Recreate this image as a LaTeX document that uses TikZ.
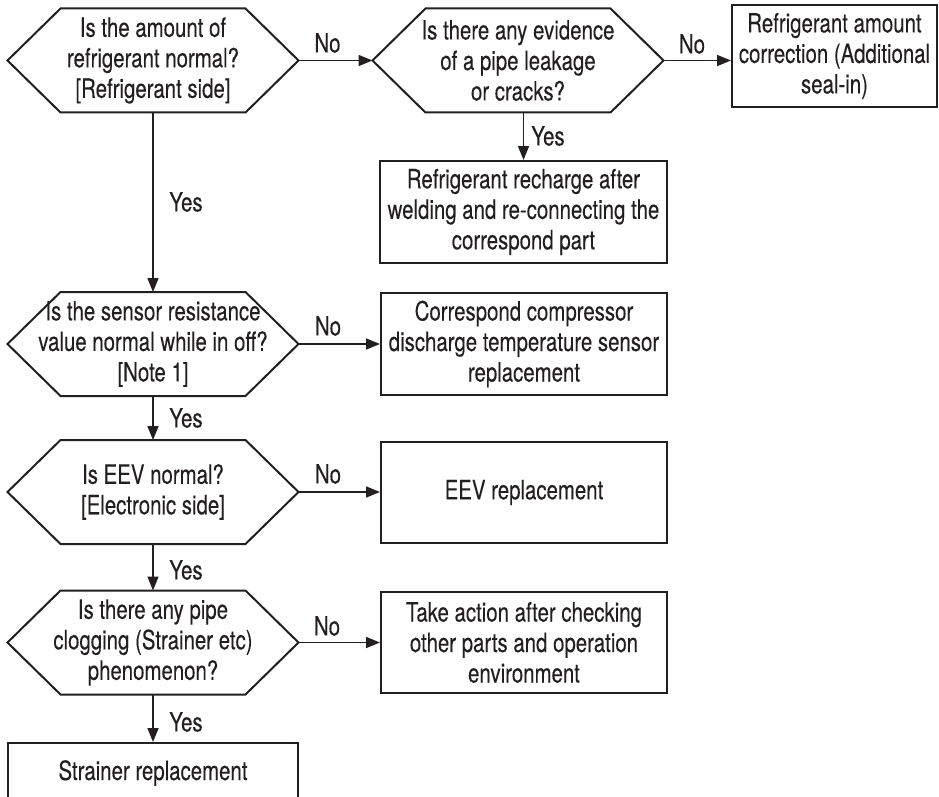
\documentclass[tikz,border=0pt]{standalone}
\usepackage{fontspec}
\setmainfont[FakeStretch=0.77,FakeBold=0.15]{TeX Gyre Heros}
\usetikzlibrary{arrows.meta,calc}
\definecolor{ink}{HTML}{231F20}
\tikzset{
  txt/.style={font=\fontsize{26.5}{30.5}\selectfont, text=ink, align=center, inner sep=0pt},
  outline/.style={draw=ink, line width=2pt, line join=miter},
  actbox/.style={txt, outline},
  conn/.style={draw=ink, line width=1.6pt, -{Triangle[length=14pt,width=11pt]}},
  lbl/.style={txt}
}
\newcommand\hexq[4]{%
  \coordinate (#1-t) at (#2,#3-52);
  \coordinate (#1-b) at (#2,#3+52);
  \coordinate (#1-l) at (#2-145.5,#3);
  \coordinate (#1-r) at (#2+145.5,#3);
  \draw[outline] (#2-92.5,#3-52) -- (#2+92.5,#3-52) -- (#1-r) -- (#2+92.5,#3+52)
     -- (#2-92.5,#3+52) -- (#1-l) -- cycle;
  \node[txt] (#1) at (#2,#3) {#4};
}
\begin{document}
\begin{tikzpicture}[x=1pt,y=-1pt]
\useasboundingbox (0,0) rectangle (939,797);
\clip (0,0) rectangle (939,797);

\hexq{q1}{153}{60.5}{Is the amount of\\refrigerant normal?\\{[Refrigerant side]}}
\hexq{q2}{518}{60.5}{Is there any evidence\\of a pipe leakage\\or cracks?}
\hexq{q3}{153}{344}{Is the sensor resistance\\value normal while in off?\\{[Note 1]}}
\hexq{q4}{153}{492}{Is EEV normal?\\{[Electronic side]}}
\hexq{q5}{153}{642.5}{Is there any pipe\\clogging (Strainer etc)\\phenomenon?}

\node[actbox, minimum width=205pt, minimum height=102pt] (a1) at (834.5,56)
  {Refrigerant amount\\correction (Additional\\seal-in)};
\node[actbox, minimum width=287pt, minimum height=102pt] (a2) at (523.5,212)
  {Refrigerant recharge after\\welding and re-connecting the\\correspond part};
\node[actbox, minimum width=286pt, minimum height=102pt] (a3) at (524,344)
  {Correspond compressor\\discharge temperature sensor\\replacement};
\node[actbox, minimum width=286pt, minimum height=101pt] (a4) at (524,492.5)
  {EEV replacement};
\node[actbox, minimum width=286pt, minimum height=101pt] (a5) at (524,642.5)
  {Take action after checking\\other parts and operation\\environment};
\node[actbox, minimum width=290pt, minimum height=60pt] (a6) at (153,773)
  {Strainer replacement};

\draw[conn] (q1-r) -- (q2-l);
\draw[conn] (q2-r) -- (q2-r -| a1.west);
\draw[conn] (a2.north |- q2-b) -- (a2.north);
\draw[conn] (q1-b) -- (q3-t);
\draw[conn] (q3-r) -- (q3-r -| a3.west);
\draw[conn] (q3-b) -- (q4-t);
\draw[conn] (q4-r) -- (q4-r -| a4.west);
\draw[conn] (q4-b) -- (q5-t);
\draw[conn] (q5-r) -- (q5-r -| a5.west);
\draw[conn] (q5-b) -- (a6.north);

\node[lbl] (n1) at (327.5,43) {No};
\node[lbl] (n2) at (692,44) {No};
\node[lbl] (y2) at (548,136) {Yes};
\node[lbl] (y1) at (186,202) {Yes};
\node[lbl] (n3) at (328,326) {No};
\node[lbl] (y3) at (186,418) {Yes};
\node[lbl] (n4) at (328,474) {No};
\node[lbl] (y4) at (186,570) {Yes};
\node[lbl] (n5) at (327,626) {No};
\node[lbl] (y5) at (186,722) {Yes};
\end{tikzpicture}
\end{document}
